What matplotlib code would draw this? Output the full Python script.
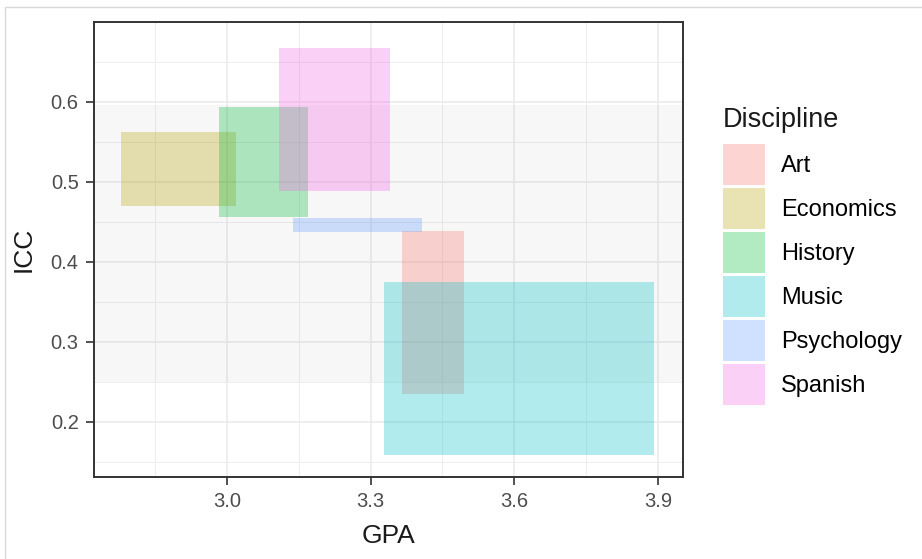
import matplotlib
matplotlib.use("Agg")
import matplotlib.pyplot as plt
from matplotlib.patches import Patch, Rectangle

plt.rcParams["font.family"] = ["Liberation Sans", "DejaVu Sans"]

# --- data ---
disciplines = ["Art", "Economics", "History", "Music", "Psychology", "Spanish"]
gpa_min = [3.365, 2.780, 2.983, 3.328, 3.138, 3.108]
gpa_max = [3.494, 3.019, 3.169, 3.892, 3.408, 3.340]
icc_min = [0.235, 0.470, 0.456, 0.159, 0.437, 0.489]
icc_max = [0.439, 0.563, 0.594, 0.375, 0.455, 0.668]
band_lo, band_hi = 0.25, 0.596

colors = ["#F8766D", "#B79F00", "#00BA38", "#00BFC4", "#619CFF", "#F564E3"]
alpha = 0.3

W, H = 922, 559
fig = plt.figure(figsize=(W / 100, H / 100), dpi=100)

# faint screenshot frame
fig.patches.append(Rectangle((5 / W, -0.1), 1.2, (H - 7) / H + 0.1,
                             transform=fig.transFigure, fill=False,
                             edgecolor="#d9d9d9", linewidth=1.0))

left, right, top, bottom = 94, 683, 22, 477
ax = fig.add_axes([left / W, (H - bottom) / H, (right - left) / W, (bottom - top) / H])

ax.set_xlim(2.723, 3.952)
ax.set_ylim(0.131, 0.700)

ax.set_xticks([3.0, 3.3, 3.6, 3.9])
ax.set_xticks([2.85, 3.15, 3.45, 3.75], minor=True)
ax.set_yticks([0.2, 0.3, 0.4, 0.5, 0.6])
ax.set_yticks([0.15, 0.25, 0.35, 0.45, 0.55, 0.65], minor=True)
ax.set_xticklabels(["3.0", "3.3", "3.6", "3.9"])
ax.set_yticklabels(["0.2", "0.3", "0.4", "0.5", "0.6"])

ax.grid(True, which="major", color="#ebebeb", linewidth=1.2, zorder=0)
ax.grid(True, which="minor", color="#ededed", linewidth=0.7, zorder=0)
ax.set_axisbelow(True)

ax.axhspan(band_lo, band_hi, color="#999999", alpha=0.075, linewidth=0, zorder=1)

for i, d in enumerate(disciplines):
    ax.bar(gpa_min[i], icc_max[i] - icc_min[i], width=gpa_max[i] - gpa_min[i],
           bottom=icc_min[i], align="edge", color=colors[i], alpha=alpha,
           linewidth=0, zorder=2)

for s in ax.spines.values():
    s.set_color("#333333")
    s.set_linewidth(1.4)
ax.tick_params(which="major", length=6, width=1.2, color="#333333",
               labelsize=14.5, labelcolor="#4d4d4d", pad=5)
ax.tick_params(which="minor", length=0)

ax.set_xlabel("GPA", fontsize=19, color="#1a1a1a", labelpad=9)
ax.set_ylabel("ICC", fontsize=19, color="#1a1a1a", labelpad=11)

handles = [Patch(facecolor=c, alpha=alpha, edgecolor="none") for c in colors]
leg = fig.legend(handles, disciplines, title="Discipline",
                 loc="upper left", bbox_to_anchor=(723 / W, 1 - 107 / H),
                 frameon=False, fontsize=17, title_fontsize=19.5,
                 handlelength=1.78, handleheight=2.3, handletextpad=0.68,
                 labelspacing=0.12, borderpad=0, borderaxespad=0,
                 alignment="left")
leg.get_title().set_color("#1a1a1a")
# a bit more room between the title and the first key
leg._legend_box.sep = 8

fig.savefig("out.png", dpi=100, facecolor="white")
